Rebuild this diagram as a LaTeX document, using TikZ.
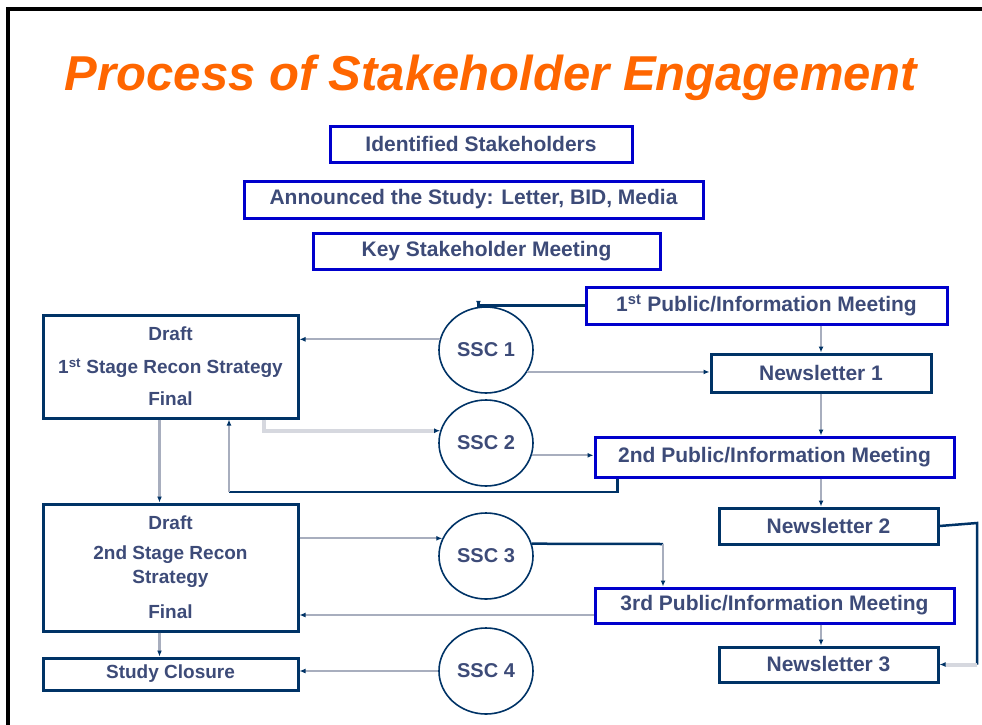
\documentclass[tikz,border=0pt]{standalone}
\usepackage{fontspec}
\setmainfont{Liberation Sans}
\usetikzlibrary{arrows.meta,shapes.geometric}
\definecolor{boxblue}{HTML}{0000CC}
\definecolor{navy}{HTML}{003366}
\definecolor{linegray}{HTML}{A8AEBE}
\definecolor{palegray}{HTML}{D6D8DF}
\definecolor{txt}{HTML}{3D4B78}
\definecolor{titleorange}{HTML}{FF6600}

\begin{document}
\begin{tikzpicture}[x=1pt,y=-1pt,
		bluebox/.style={draw=boxblue,line width=3pt,inner sep=0pt,text=txt,font=\fontsize{21}{21}\selectfont\bfseries},
		navybox/.style={draw=navy,line width=3pt,inner sep=0pt,text=txt,font=\fontsize{21}{21}\selectfont\bfseries},
		stratbox/.style={navybox,align=center,font=\fontsize{19}{24}\selectfont\bfseries},
		sscnode/.style={ellipse,draw=navy,line width=1.6pt,minimum width=94pt,minimum height=86pt,inner sep=0pt,text=txt,font=\fontsize{20}{20}\selectfont\bfseries},
		arr/.style={-{Latex[length=6pt,width=5pt,color=navy]}},
		gline/.style={draw=linegray,line width=2.2pt},
		nline/.style={draw=navy,line width=2.5pt},
		lgline/.style={draw=palegray,line width=4pt}]
				\useasboundingbox (0,0) rectangle (982,725);
				\draw[line width=4pt] (8,725) -- (8,9) -- (982,9);
				
				\node[anchor=base,text=titleorange,font=\fontsize{49}{49}\selectfont\bfseries\itshape] (title) at (491,90) {Process of Stakeholder Engagement};
				
				\node[bluebox,minimum width=302pt,minimum height=36pt] (ident) at (481,144) {Identified Stakeholders};
				\node[bluebox,minimum width=459pt,minimum height=37pt] (announce) at (473.5,199.5) {Announced the Study: Letter, BID, Media};
				\node[bluebox,minimum width=347pt,minimum height=36pt] (keymeet) at (486.5,251) {Key Stakeholder Meeting};
				
				\node[bluebox,minimum width=361pt,minimum height=37pt] (pub1) at (766.5,305.5) {1\textsuperscript{st} Public/Information Meeting};
				\node[navybox,minimum width=220pt,minimum height=38pt] (news1) at (821,373) {Newsletter 1};
				\node[bluebox,minimum width=359pt,minimum height=40pt] (pub2) at (774.5,457) {2nd Public/Information Meeting};
				\node[navybox,minimum width=219pt,minimum height=36pt] (news2) at (828.5,526) {Newsletter 2};
				\node[bluebox,minimum width=359pt,minimum height=35pt] (pub3) at (774.5,605.5) {3rd Public/Information Meeting};
				\node[navybox,minimum width=219pt,minimum height=35pt] (news3) at (828.5,664.5) {Newsletter 3};
				
				\node[stratbox,minimum width=255pt,minimum height=103pt] (strat1) at (170.5,366.5) {Draft\\[9pt]1\textsuperscript{st} Stage Recon Strategy\\[8pt]Final};
				\node[stratbox,minimum width=255pt,minimum height=127pt] (strat2) at (170.5,567.5) {Draft\\[6pt]2nd Stage Recon\\Strategy\\[11pt]Final};
				\node[navybox,font=\fontsize{19}{19}\selectfont\bfseries,minimum width=255pt,minimum height=32pt] (closure) at (170.5,674) {Study Closure};
				
				\node[sscnode] (ssc1) at (486,350) {SSC 1};
				\node[sscnode] (ssc2) at (486,443) {SSC 2};
				\node[sscnode] (ssc3) at (486,556) {SSC 3};
				\node[sscnode] (ssc4) at (486,671) {SSC 4};
				
				\coordinate (back2) at (229,492);
				\coordinate (turn3) at (663,544);
				\coordinate (turnr) at (977,523);
				
				\draw[nline,arr] (pub1.west) -| (ssc1.100);
				\draw[gline,arr] (ssc1.167) -- (ssc1.167 -| strat1.east);
				\draw[gline,arr] (ssc1.-28) -- (ssc1.-28 -| news1.west);
				\draw[gline,arr] (news1.north |- pub1.south) -- (news1.north);
				\draw[gline,arr] (news1.south) -- (news1.south |- pub2.north);
				\draw[lgline,arr] ([xshift=-36pt]strat1.south east) |- (ssc2.165);
				\draw[gline,arr] (ssc2.-15) -- (ssc2.-15 -| pub2.west);
				\draw[nline] ([xshift=24pt]pub2.south west) |- (back2);
				\draw[gline,arr] (back2) -- (back2 |- strat1.south);
				\draw[gline,arr] ([xshift=-11pt]strat1.south) -- ([xshift=-11pt]strat2.north);
				\draw[gline,arr] (news1.south |- pub2.south) -- (news1.south |- news2.north);
				\draw[gline,arr] (ssc3.158 -| strat2.east) -- (ssc3.158);
				\draw[nline] (ssc3.15) -- (turn3);
				\draw[gline,arr] (turn3) -- (turn3 |- pub3.north);
				\draw[gline,arr] ([yshift=-9.5pt]pub3.west) -- ([yshift=-9.5pt]pub3.west -| strat2.east);
				\draw[gline,arr] (news1.south |- pub3.south) -- (news1.south |- news3.north);
				\draw[nline] (news2.east) -- (turnr) -- (turnr |- news3.east);
				\draw[lgline,arr] (turnr |- news3.east) -- (news3.east);
				\draw[gline,arr] ([xshift=-11pt]strat2.south) -- ([xshift=-11pt]closure.north);
				\draw[gline,arr] (ssc4.west) -- (ssc4.west -| closure.east);
			\end{tikzpicture}
\end{document}
